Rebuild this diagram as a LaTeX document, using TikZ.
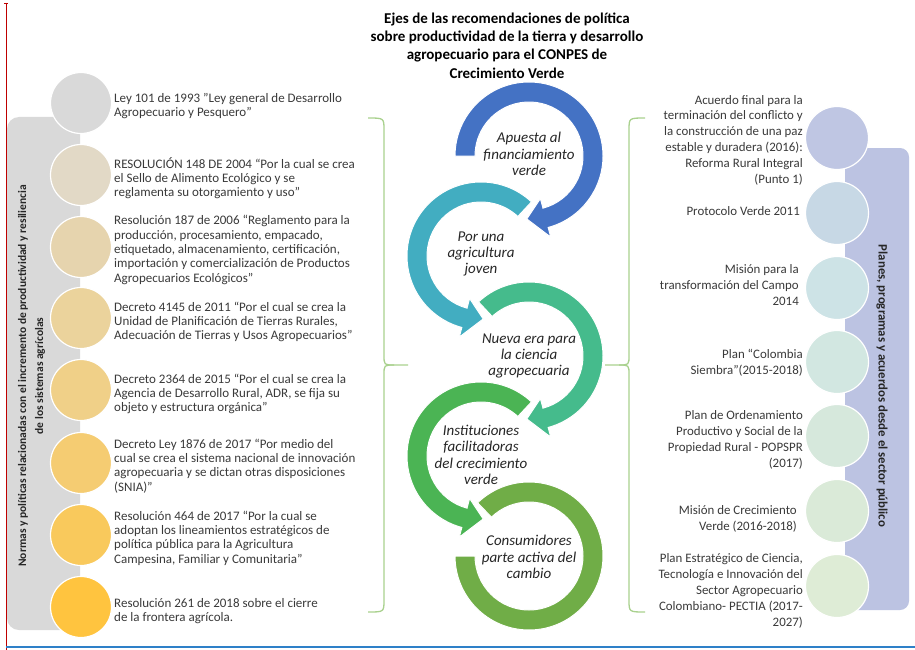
\documentclass[tikz,border=0pt]{standalone}
\usepackage{fontspec}
\setmainfont{Carlito}
\usetikzlibrary{calc}
\definecolor{cblue}{HTML}{4472C4}
\definecolor{cteal}{HTML}{42ADC1}
\definecolor{csea}{HTML}{45BB8C}
\definecolor{cgreen}{HTML}{4BB454}
\definecolor{colive}{HTML}{70AD47}
\definecolor{brk}{HTML}{A9D18E}
\definecolor{lgrey}{HTML}{D9D9D9}
\definecolor{lav}{HTML}{BCC3E2}
\definecolor{la}{HTML}{D9D9D9}
\definecolor{lb}{HTML}{E2D9C6}
\definecolor{lc}{HTML}{E6D4AE}
\definecolor{ld}{HTML}{EBD39C}
\definecolor{le}{HTML}{F0D088}
\definecolor{lf}{HTML}{F5CC72}
\definecolor{lg}{HTML}{F9C95C}
\definecolor{lh}{HTML}{FFC43F}
\definecolor{ra}{HTML}{BFC6E3}
\definecolor{rb}{HTML}{C7D8E5}
\definecolor{rc}{HTML}{CDE3E6}
\definecolor{rd}{HTML}{D2E7E1}
\definecolor{re}{HTML}{D6E8DC}
\definecolor{rf}{HTML}{DAEAD8}
\definecolor{rg}{HTML}{DEECD6}
\definecolor{txt}{HTML}{3A3A3A}
\tikzset{
  dot/.style={circle, minimum size=61pt, inner sep=0pt, draw=white, line width=1.2pt},
  ltxt/.style={anchor=west, align=left, inner sep=0pt, text=txt, font=\fontsize{13}{14.3}\selectfont},
  rtxt/.style={anchor=east, align=right, inner sep=0pt, text=txt, font=\fontsize{12.9}{15.8}\selectfont},
  ringtxt/.style={align=center, inner sep=0pt, text=black!85, font=\fontsize{15}{16.3}\selectfont\itshape},
  brace/.style={draw=brk, line width=1.3pt, line join=round},
  arrowband/.style={draw=white, line width=1pt}
}
\begin{document}
\begin{tikzpicture}[x=1pt,y=1pt]
\useasboundingbox (0,0) rectangle (915,-650);
\fill[white] (0,0) rectangle (915,-650);

% frame lines
\draw[red!75!black, line width=0.8pt] (6,-3) -- (6,-650);
\draw[red!75!black, line width=0.8pt] (4,-3) -- (8,-3);
\draw[red!40, line width=0.6pt, dotted] (6,-650) -- (915,-650);
\draw[color={rgb,255:red,46;green,128;blue,200}, line width=1.6pt] (6,-647) -- (915,-647);

% title
\node[align=center, inner sep=0pt, font=\fontsize{15}{18.3}\selectfont\bfseries] (title) at (507,-45.5)
 {Ejes de las recomendaciones de política\\sobre productividad de la tierra y desarrollo\\agropecuario para el CONPES de\\Crecimiento Verde};

% left panel
\fill[lgrey, rounded corners=12pt] (7,-117) rectangle (80,-630);
\node[rotate=90, align=center, inner sep=0pt, font=\fontsize{11.5}{17}\selectfont\bfseries, text=black!85] (lefttitle) at (31.5,-376)
 {Normas y políticas relacionadas con el incremento de productividad y resiliencia\\de los sistemas agrícolas};

\node[dot, fill=la] (l1) at (81,-103) {};
\node[dot, fill=lb] (l2) at (81,-175) {};
\node[dot, fill=lc] (l3) at (81,-247) {};
\node[dot, fill=ld] (l4) at (81,-318) {};
\node[dot, fill=le] (l5) at (81,-390) {};
\node[dot, fill=lf] (l6) at (81,-463) {};
\node[dot, fill=lg] (l7) at (81,-535) {};
\node[dot, fill=lh] (l8) at (81,-607) {};

\node[ltxt] (t1) at (114,-106) {Ley 101 de 1993 "Ley general de Desarrollo\\Agropecuario y Pesquero”};
\node[ltxt] (t2) at (114,-178) {RESOLUCIÓN 148 DE 2004 “Por la cual se crea\\el Sello de Alimento Ecológico y se\\reglamenta su otorgamiento y uso”};
\node[ltxt] (t3) at (114,-250) {Resolución 187 de 2006 “Reglamento para la\\producción, procesamiento, empacado,\\etiquetado, almacenamiento, certificación,\\importación y comercialización de Productos\\Agropecuarios Ecológicos”};
\node[ltxt] (t4) at (114,-322) {Decreto 4145 de 2011 “Por el cual se crea la\\Unidad de Planificación de Tierras Rurales,\\Adecuación de Tierras y Usos Agropecuarios”};
\node[ltxt] (t5) at (114,-394) {Decreto 2364 de 2015 “Por el cual se crea la\\Agencia de Desarrollo Rural, ADR, se fija su\\objeto y estructura orgánica”};
\node[ltxt] (t6) at (114,-466) {Decreto Ley 1876 de 2017 “Por medio del\\cual se crea el sistema nacional de innovación\\agropecuaria y se dictan otras disposiciones\\(SNIA)”};
\node[ltxt] (t7) at (114,-538) {Resolución 464 de 2017 “Por la cual se\\adoptan los lineamientos estratégicos de\\política pública para la Agricultura\\Campesina, Familiar y Comunitaria”};
\node[ltxt] (t8) at (114,-611) {Resolución 261 de 2018 sobre el cierre\\de la frontera agrícola.};

% braces
\draw[brace] (368,-118) .. controls (384,-118) .. (384,-130) -- (384,-355) .. controls (384,-365) .. (394,-365) -- (408,-365);
\draw[brace] (394,-365) .. controls (384,-365) .. (384,-375) -- (384,-600) .. controls (384,-612) .. (368,-612);
\draw[brace] (645,-118) .. controls (629,-118) .. (629,-130) -- (629,-355) .. controls (629,-365) .. (619,-365) -- (605,-365);
\draw[brace] (619,-365) .. controls (629,-365) .. (629,-375) -- (629,-600) .. controls (629,-612) .. (645,-612);

% circular arrows
\begin{scope}[shift={(529,-156)}]
\filldraw[fill=cblue, arrowband] (180:74pt) arc[start angle=180, end angle=-75, radius=74pt] -- (-75:84pt) -- (-92:63pt) -- (-75:44pt) -- (-75:54pt) arc[start angle=-75, end angle=180, radius=54pt] -- cycle;
\end{scope}
\begin{scope}[shift={(481,-256)}]
\filldraw[fill=cteal, arrowband] (47:74pt) arc[start angle=47, end angle=255, radius=74pt] -- (255:84pt) -- (272:63pt) -- (255:44pt) -- (255:54pt) arc[start angle=255, end angle=47, radius=54pt] -- cycle;
\end{scope}
\begin{scope}[shift={(529,-356)}]
\filldraw[fill=csea, arrowband] (133:74pt) arc[start angle=133, end angle=-75, radius=74pt] -- (-75:84pt) -- (-92:63pt) -- (-75:44pt) -- (-75:54pt) arc[start angle=-75, end angle=133, radius=54pt] -- cycle;
\end{scope}
\begin{scope}[shift={(481,-456)}]
\filldraw[fill=cgreen, arrowband] (47:74pt) arc[start angle=47, end angle=255, radius=74pt] -- (255:84pt) -- (272:63pt) -- (255:44pt) -- (255:54pt) arc[start angle=255, end angle=47, radius=54pt] -- cycle;
\end{scope}
\begin{scope}[shift={(529,-556)}]
\filldraw[fill=colive, arrowband] (134:74pt) arc[start angle=134, end angle=-180, radius=74pt] -- (180:54pt) arc[start angle=-180, end angle=134, radius=54pt] -- cycle;
\end{scope}

\node[ringtxt] (a1) at (529,-154) {Apuesta al\\financiamiento\\verde};
\node[ringtxt] (a2) at (481,-254) {Por una\\agricultura\\joven};
\node[ringtxt] (a3) at (529,-356) {Nueva era para\\la ciencia\\agropecuaria};
\node[ringtxt] (a4) at (481,-455) {Instituciones\\facilitadoras\\del crecimiento\\verde};
\node[ringtxt] (a5) at (529,-557) {Consumidores\\parte activa del\\cambio};

% right panel
\fill[lav, rounded corners=9pt] (845,-148) rectangle (909,-610);
\node[rotate=-90, inner sep=0pt, font=\fontsize{12.8}{14}\selectfont\bfseries, text=black!85] (righttitle) at (882,-386)
 {Planes, programas y acuerdos desde el sector público};

\node[dot, fill=ra, minimum size=63pt] (r1) at (837,-138) {};
\node[dot, fill=rb, minimum size=63pt] (r2) at (837,-213) {};
\node[dot, fill=rc, minimum size=63pt] (r3) at (837,-288) {};
\node[dot, fill=rd, minimum size=63pt] (r4) at (837,-362) {};
\node[dot, fill=re, minimum size=63pt] (r5) at (837,-436) {};
\node[dot, fill=rf, minimum size=63pt] (r6) at (837,-511) {};
\node[dot, fill=rg, minimum size=63pt] (r7) at (837,-586) {};

\node[rtxt] (s1) at (803,-140) {Acuerdo final para la\\terminación del conflicto y\\la construcción de una paz\\estable y duradera (2016):\\Reforma Rural Integral\\(Punto 1)};
\node[rtxt] (s2) at (800,-211) {Protocolo Verde 2011};
\node[rtxt] (s3) at (799,-285) {Misión para la\\transformación del Campo\\2014};
\node[rtxt] (s4) at (803,-363) {Plan “Colombia\\Siembra”(2015-2018)};
\node[rtxt] (s5) at (803,-440) {Plan de Ordenamiento\\Productivo y Social de la\\Propiedad Rural - POPSPR\\(2017)};
\node[rtxt] (s6) at (797,-519) {Misión de Crecimiento\\Verde (2016-2018)};
\node[rtxt] (s7) at (803,-591) {Plan Estratégico de Ciencia,\\Tecnología e Innovación del\\Sector Agropecuario\\Colombiano- PECTIA (2017-\\2027)};
\end{tikzpicture}
\end{document}
